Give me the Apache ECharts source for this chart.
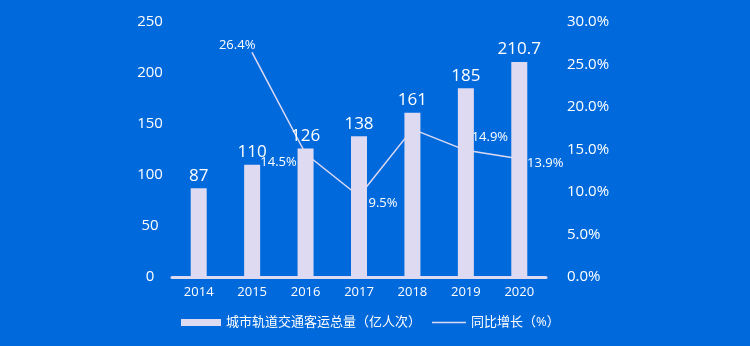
<!DOCTYPE html>
<html>
<head>
<meta charset="utf-8">
<script src="https://cdn.jsdelivr.net/npm/echarts@6/dist/echarts.min.js"></script>
<style>
  html, body { margin: 0; padding: 0; background: #006ADC; }
  #chart { width: 750px; height: 346px; }
</style>
</head>
<body>
<div id="chart"></div>
<script>
// Urban rail transit passenger volume and year-on-year growth, 2014-2020
const years = ['2014', '2015', '2016', '2017', '2018', '2019', '2020'];
const passengerVolume = [87, 110, 126, 138, 161, 185, 210.7];   // 亿人次
const yoyGrowth = [null, 26.4, 14.5, 9.5, 17.4, 14.9, 13.9];    // %
const volumeTicks = { min: 0, max: 250, interval: 50 };
const growthTicks = { min: 0, max: 30, interval: 5 };

const volumeName = '城市轨道交通客运总量（亿人次）';
const growthName = '同比增长（%）';

// Where each growth label sits relative to its point (indices without an entry stay unlabeled)
const growthLabelOffsets = {
  1: [-15, -7],
  2: [-27, 9],
  3: [24, 7],
  5: [24, -13],
  6: [26, 4]
};

const LAVENDER = '#DEDAF2';
const FONT = '"Open Sans", "Noto Sans CJK SC", sans-serif';

const growthData = yoyGrowth.map((v, i) => {
  const off = growthLabelOffsets[i];
  return {
    value: v,
    label: off
      ? { show: true, position: 'inside', offset: off }
      : { show: false }
  };
});

const chart = echarts.init(document.getElementById('chart'));
chart.setOption({
  backgroundColor: '#006ADC',
  textStyle: { fontFamily: FONT },
  grid: { left: 172, right: 204, top: 22, bottom: 69 },
  legend: [
    {
      data: [{ name: volumeName, icon: 'rect' }],
      left: 176, top: 311,
      itemWidth: 40, itemHeight: 7,
      textStyle: { color: '#fff', fontSize: 13, fontFamily: FONT }
    },
    {
      data: [{ name: growthName, icon: 'rect' }],
      left: 427, top: 311,
      itemWidth: 34, itemHeight: 1.5,
      textStyle: { color: '#fff', fontSize: 13, fontFamily: FONT }
    }
  ],
  xAxis: {
    type: 'category',
    data: years,
    axisLine: { lineStyle: { color: LAVENDER, width: 3 } },
    axisTick: { show: false },
    axisLabel: { color: '#fff', fontSize: 13, margin: 9, fontFamily: FONT }
  },
  yAxis: [
    {
      type: 'value',
      min: volumeTicks.min, max: volumeTicks.max, interval: volumeTicks.interval,
      axisLine: { show: false }, axisTick: { show: false }, splitLine: { show: false },
      axisLabel: { color: '#fff', fontSize: 15, align: 'center', margin: 22, fontFamily: FONT }
    },
    {
      type: 'value',
      min: growthTicks.min, max: growthTicks.max, interval: growthTicks.interval,
      axisLine: { show: false }, axisTick: { show: false }, splitLine: { show: false },
      axisLabel: {
        color: '#fff', fontSize: 15, align: 'left', margin: 21, fontFamily: FONT,
        formatter: v => v.toFixed(1) + '%'
      }
    }
  ],
  series: [
    {
      name: volumeName,
      type: 'bar',
      yAxisIndex: 0,
      data: passengerVolume,
      barWidth: 16,
      z: 3,
      itemStyle: { color: LAVENDER },
      label: {
        show: true, position: 'top', distance: 4,
        color: '#fff', fontSize: 17, fontFamily: FONT
      }
    },
    {
      name: growthName,
      type: 'line',
      yAxisIndex: 1,
      data: growthData,
      z: 2,
      symbol: 'circle',
      symbolSize: 1,
      showSymbol: true,
      color: LAVENDER,
      itemStyle: { color: LAVENDER },
      lineStyle: { color: LAVENDER, width: 1.5 },
      label: {
        color: '#fff', fontSize: 13, fontFamily: FONT,
        formatter: p => p.value + '%'
      },
      animation: false
    }
  ],
  animation: false
});
</script>
</body>
</html>
